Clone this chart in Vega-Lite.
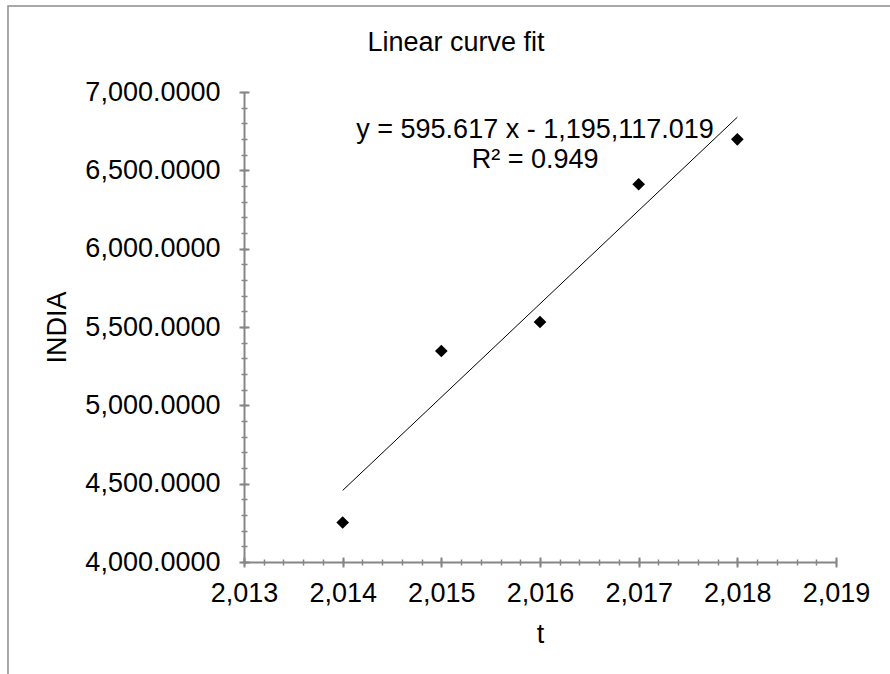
{
  "$schema": "https://vega.github.io/schema/vega-lite/v6.json",
  "width": 592,
  "height": 470,
  "autosize": "none",
  "padding": {"left": 244, "top": 92, "right": 54, "bottom": 112},
  "background": "white",
  "config": {"view": {"stroke": null}, "font": "Liberation Sans"},
  "title": {
    "text": "Linear curve fit",
    "font": "Liberation Sans",
    "fontSize": 27,
    "fontWeight": "normal",
    "color": "#000000",
    "anchor": "middle",
    "frame": "group",
    "baseline": "alphabetic",
    "dx": -84,
    "offset": -73
  },
  "datasets": {
    "pts": [
      {"t": 2014, "INDIA": 4252},
      {"t": 2015, "INDIA": 5347},
      {"t": 2016, "INDIA": 5532},
      {"t": 2017, "INDIA": 6411},
      {"t": 2018, "INDIA": 6698}
    ],
    "border": [
      {"x1": 2010.608, "x2": 2021, "y1": 7549, "y2": 2800}
    ],
    "ann": [
      {"t": 2015.95, "INDIA": 6706, "label": "y = 595.617 x - 1,195,117.019"},
      {"t": 2015.95, "INDIA": 6515, "label": "R² = 0.949"}
    ]
  },
  "layer": [
    {
      "data": {"name": "border"},
      "mark": {"type": "rect", "filled": false, "stroke": "#8c8c8c", "strokeWidth": 1.5, "clip": false},
      "encoding": {
        "x": {"field": "x1", "type": "quantitative", "scale": {"domain": [2013, 2019], "nice": false, "zero": false}, "axis": null},
        "x2": {"field": "x2"},
        "y": {"field": "y1", "type": "quantitative", "scale": {"domain": [4000, 7000], "nice": false, "zero": false}, "axis": null},
        "y2": {"field": "y2"}
      }
    },
    {
      "data": {"name": "pts"},
      "transform": [{"regression": "INDIA", "on": "t"}],
      "mark": {"type": "line", "color": "#000000", "strokeWidth": 1},
      "encoding": {
        "x": {"field": "t", "type": "quantitative", "scale": {"domain": [2013, 2019], "nice": false, "zero": false},
          "axis": {"orient": "bottom", "values": [2013, 2014, 2015, 2016, 2017, 2018, 2019], "domain": false, "labels": false, "grid": false, "title": null, "ticks": true, "tickSize": 10, "offset": -5, "tickColor": "#868686", "tickWidth": 2}},
        "y": {"field": "INDIA", "type": "quantitative", "scale": {"domain": [4000, 7000], "nice": false, "zero": false},
          "axis": {"orient": "left", "values": [4000, 4500, 5000, 5500, 6000, 6500, 7000], "domain": false, "labels": false, "grid": false, "title": null, "ticks": true, "tickSize": 10, "offset": -5, "tickColor": "#868686", "tickWidth": 2}}
      }
    },
    {
      "data": {"name": "ann"},
      "mark": {"type": "text", "align": "center", "baseline": "alphabetic", "font": "Liberation Sans", "fontSize": 27, "color": "#000000"},
      "encoding": {
        "x": {"field": "t", "type": "quantitative", "scale": {"domain": [2013, 2019], "nice": false, "zero": false},
          "axis": {"orient": "bottom", "values": [2013, 2013.2, 2013.4, 2013.6, 2013.8, 2014, 2014.2, 2014.4, 2014.6, 2014.8, 2015, 2015.2, 2015.4, 2015.6, 2015.8, 2016, 2016.2, 2016.4, 2016.6, 2016.8, 2017, 2017.2, 2017.4, 2017.6, 2017.8, 2018, 2018.2, 2018.4, 2018.6, 2018.8, 2019], "domain": false, "labels": false, "grid": false, "title": null, "ticks": true, "tickSize": 6, "offset": -3, "tickColor": "#868686", "tickWidth": 1.5}},
        "y": {"field": "INDIA", "type": "quantitative", "scale": {"domain": [4000, 7000], "nice": false, "zero": false},
          "axis": {"orient": "left", "values": [4000, 4100, 4200, 4300, 4400, 4500, 4600, 4700, 4800, 4900, 5000, 5100, 5200, 5300, 5400, 5500, 5600, 5700, 5800, 5900, 6000, 6100, 6200, 6300, 6400, 6500, 6600, 6700, 6800, 6900, 7000], "domain": false, "labels": false, "grid": false, "title": null, "ticks": true, "tickSize": 6, "offset": -3, "tickColor": "#868686", "tickWidth": 1.5}},
        "text": {"field": "label", "type": "nominal"}
      }
    },
    {
      "data": {"name": "pts"},
      "mark": {"type": "point", "shape": "diamond", "filled": true, "color": "#000000", "size": 160, "opacity": 1},
      "encoding": {
        "x": {"field": "t", "type": "quantitative", "scale": {"domain": [2013, 2019], "nice": false, "zero": false},
          "axis": {"orient": "bottom", "values": [2013, 2014, 2015, 2016, 2017, 2018, 2019], "format": ",", "grid": false, "ticks": false, "tickSize": 0, "domain": true, "domainColor": "#868686", "domainWidth": 2, "labelFont": "Liberation Sans", "labelFontSize": 27, "labelColor": "#000000", "labelPadding": 18, "labelFlush": false, "labelOverlap": false, "title": "t", "titleFont": "Liberation Sans", "titleFontSize": 27, "titleFontWeight": "normal", "titleColor": "#000000", "titleBaseline": "alphabetic", "titleY": 80}},
        "y": {"field": "INDIA", "type": "quantitative", "scale": {"domain": [4000, 7000], "nice": false, "zero": false},
          "axis": {"orient": "left", "values": [4000, 4500, 5000, 5500, 6000, 6500, 7000], "format": ",.4f", "grid": false, "ticks": false, "tickSize": 0, "domain": true, "domainColor": "#868686", "domainWidth": 2, "labelFont": "Liberation Sans", "labelFontSize": 27, "labelColor": "#000000", "labelPadding": 24, "labelFlush": false, "labelOverlap": false, "labelBaseline": "middle", "title": "INDIA", "titleFont": "Liberation Sans", "titleFontSize": 27, "titleFontWeight": "normal", "titleColor": "#000000", "titleAngle": -90, "titleAlign": "center", "titleBaseline": "middle", "titleX": -187, "titleY": 235}}
      }
    }
  ],
  "resolve": {"axis": {"x": "independent", "y": "independent"}}
}
